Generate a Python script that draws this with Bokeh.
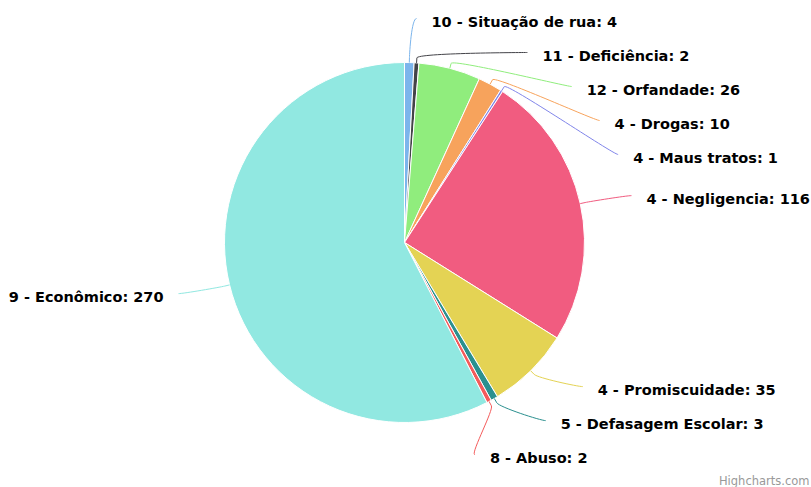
import math
from bokeh.plotting import figure
from bokeh.models import Range1d
from bokeh.embed import file_html
from bokeh.resources import INLINE
from bokeh.core.properties import value

# ---- data ----
categories = ["10 - Situação de rua", "11 - Deficiência", "12 - Orfandade", "4 - Drogas",
              "4 - Maus tratos", "4 - Negligencia", "4 - Promiscuidade",
              "5 - Defasagem Escolar", "8 - Abuso", "9 - Econômico"]
values = [4, 2, 26, 10, 1, 116, 35, 3, 2, 270]
colors = ["#7cb5ec", "#434348", "#90ed7d", "#f7a35c", "#8085e9",
          "#f15c80", "#e4d354", "#2b908f", "#f45b5b", "#91e8e1"]
credit_text = "Highcharts.com"

# ---- layout (screen pixels) ----
W, H = 811, 487
CX, CY = 404, 242
RADIUS = 180
LABEL_RY = 217
LABEL_RX = 220
CONN_PAD = 12
TEXT_GAP = 15
SPACING = 34
Y_MIN, Y_MAX = 18, 470
FONT = "DejaVu Sans"
FSIZE = "14.5px"

total = float(sum(values))
cum = 0.0
starts, ends, mids = [], [], []
for v in values:
    f0 = cum / total
    cum += v
    f1 = cum / total
    starts.append(f0)
    ends.append(f1)
    mids.append((f0 + f1) / 2)


def distribute(items):
    items = sorted(items)
    groups = [{"t": [t], "m": [i]} for t, i in items]

    def top_of(g):
        n = len(g["t"])
        top = sum(g["t"]) / n - (n - 1) / 2 * SPACING
        top = max(top, Y_MIN)
        top = min(top, Y_MAX - (n - 1) * SPACING)
        return top

    changed = True
    while changed:
        changed = False
        for k in range(len(groups) - 1):
            a, b = groups[k], groups[k + 1]
            if top_of(b) < top_of(a) + len(a["t"]) * SPACING - 0.01:
                a["t"] += b["t"]
                a["m"] += b["m"]
                groups.pop(k + 1)
                changed = True
                break
    pos = {}
    for g in groups:
        top = top_of(g)
        for j, i in enumerate(g["m"]):
            pos[i] = top + j * SPACING
    return pos


right, left = [], []
for i, m in enumerate(mids):
    ang = 2 * math.pi * m  # clockwise from top
    ny = CY - LABEL_RY * math.cos(ang)
    (right if m < 0.5 else left).append((ny, i))
ypos = {}
ypos.update(distribute(right))
ypos.update(distribute(left))

p = figure(width=W, height=H, output_backend="svg", toolbar_location=None,
           x_range=Range1d(0, W), y_range=Range1d(0, H), min_border=0)
p.axis.visible = False
p.grid.visible = False
p.outline_line_color = None
p.background_fill_color = "white"
p.border_fill_color = "white"


def sy(y):
    return H - y


# wedges
p.wedge(x=[CX] * len(values), y=[sy(CY)] * len(values), radius=RADIUS, radius_units="screen",
        start_angle=[math.pi / 2 - 2 * math.pi * f for f in starts],
        end_angle=[math.pi / 2 - 2 * math.pi * f for f in ends],
        direction="clock", fill_color=colors, line_color="white", line_width=1)

# connectors and labels
for i, m in enumerate(mids):
    ang = 2 * math.pi * m
    sa, ca = math.sin(ang), math.cos(ang)
    is_right = m < 0.5
    sgn = 1 if is_right else -1
    ye = ypos[i]
    dy = max(-LABEL_RX, min(LABEL_RX, ye - CY))
    xe = CX + sgn * (math.sqrt(max(0.0, LABEL_RX ** 2 - dy ** 2)) + CONN_PAD)
    tx, ty = CX + sa * RADIUS, CY - ca * RADIUS
    bx, by = CX + sa * (RADIUS + 5), CY - ca * (RADIUS + 5)
    p.bezier(x0=[xe], y0=[sy(ye)], x1=[bx], y1=[sy(by)],
             cx0=[xe - sgn * 5], cy0=[sy(ye)],
             cx1=[2 * bx - tx], cy1=[sy(2 * by - ty)],
             line_color=colors[i], line_width=1)
    p.line(x=[bx, tx], y=[sy(by), sy(ty)], line_color=colors[i], line_width=1)
    p.text(x=[xe + sgn * TEXT_GAP], y=[sy(ye + 3.5)],
           text=[f"{categories[i]}: {values[i]}"],
           text_font=value(FONT), text_font_style="bold", text_font_size=FSIZE,
           text_color="#000000", text_baseline="middle",
           text_align="left" if is_right else "right")

p.text(x=[809], y=[sy(480)], text=[credit_text], text_font=value(FONT),
       text_font_size="11.5px", text_color="#999999", text_baseline="middle", text_align="right")

open("out.html", "w").write(file_html(p, INLINE))
